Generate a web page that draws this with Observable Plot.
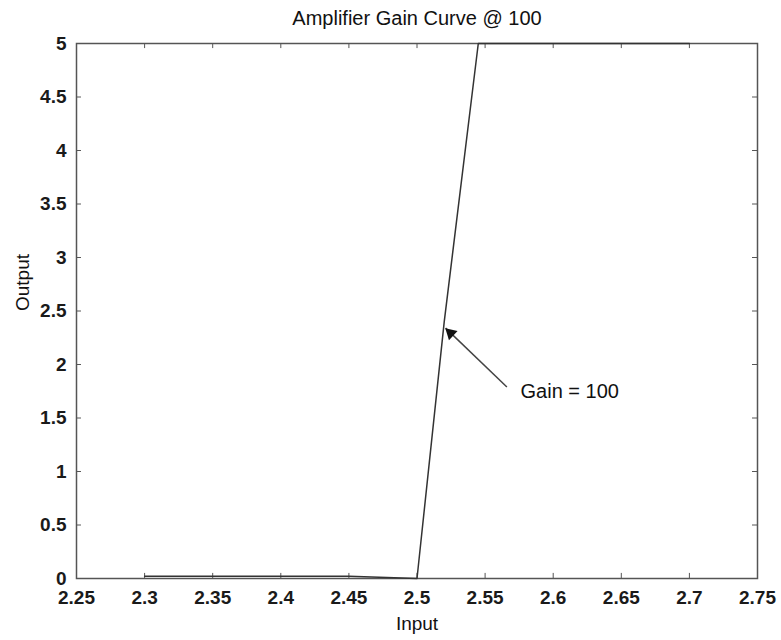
<!DOCTYPE html>
<html>
<head>
<meta charset="utf-8">
<script src="https://cdn.jsdelivr.net/npm/d3@7"></script>
<script src="https://cdn.jsdelivr.net/npm/@observablehq/plot@0.6"></script>
<style>
  html, body { margin: 0; padding: 0; background: #fff; }
  svg { font-family: "Liberation Sans", Arial, sans-serif; }
</style>
</head>
<body>
<div id="chart"></div>
<script>
// Data
const inputX = [2.3, 2.45, 2.5, 2.52, 2.545, 2.7];
const outputY = [0.02, 0.02, 0, 2.4, 5, 5];
const xTicks = [2.25, 2.3, 2.35, 2.4, 2.45, 2.5, 2.55, 2.6, 2.65, 2.7, 2.75];
const yTicks = [0, 0.5, 1, 1.5, 2, 2.5, 3, 3.5, 4, 4.5, 5];
const annotation = ["Gain = 100"];
const arrowFrom = [2.566, 1.79];
const arrowTo = [2.521, 2.34];
const titleText = "Amplifier Gain Curve @ 100";

const curve = inputX.map((x, i) => ({x, y: outputY[i]}));
const xMin = 2.25, xMax = 2.75, yMin = 0, yMax = 5;
const tx = (xMax - xMin) * 0.0073; // inward tick length in data units
const ty = (yMax - yMin) * 0.0095;

const chart = Plot.plot({
  width: 781,
  height: 640,
  marginLeft: 76,
  marginRight: 24,
  marginTop: 43,
  marginBottom: 62,
  style: {fontSize: "19px", fontFamily: "'Liberation Sans', Arial, sans-serif", color: "#111", background: "#fff"},
  x: {domain: [xMin, xMax], ticks: xTicks, label: null},
  y: {domain: [yMin, yMax], ticks: yTicks, label: null},
  marks: [
    Plot.frame({stroke: "#555", strokeWidth: 1.5}),
    // inward ticks on all four sides
    Plot.ruleX(xTicks, {x: d => d, y1: yMin, y2: yMin + ty, stroke: "#555"}),
    Plot.ruleX(xTicks, {x: d => d, y1: yMax, y2: yMax - ty, stroke: "#555"}),
    Plot.ruleY(yTicks, {y: d => d, x1: xMin, x2: xMin + tx, stroke: "#555"}),
    Plot.ruleY(yTicks, {y: d => d, x1: xMax, x2: xMax - tx, stroke: "#555"}),
    Plot.axisX({ticks: xTicks, tickSize: 0, tickPadding: 12, fontSize: 19, fontWeight: "bold", fill: "#1a1a1a", tickFormat: d => String(+d.toFixed(2)), label: null}),
    Plot.axisY({ticks: yTicks, tickSize: 0, tickPadding: 10, fontSize: 19, fontWeight: "bold", fill: "#1a1a1a", tickFormat: d => String(d), label: null}),
    Plot.line(curve, {x: "x", y: "y", stroke: "#333", strokeWidth: 1.5}),
    Plot.link([{x1: arrowFrom[0], y1: arrowFrom[1], x2: arrowTo[0], y2: arrowTo[1]}], {
      x1: "x1", y1: "y1", x2: "x2", y2: "y2", stroke: "#444", strokeWidth: 1.5
    }),
    Plot.dot([{x: arrowTo[0], y: arrowTo[1]}], {x: "x", y: "y", symbol: "triangle2", r: 6, rotate: -47, dx: 5, dy: 5, fill: "#111", stroke: "none"}),
    Plot.text(annotation, {x: 2.576, y: 1.75, text: d => d, textAnchor: "start", fontSize: 20, fill: "#111"}),
    Plot.text([titleText], {frameAnchor: "top", dy: -33, text: d => d, fontSize: 20, fill: "#111"}),
    Plot.text(["Input"], {frameAnchor: "bottom", dy: 51, text: d => d, fontSize: 19, fill: "#111"}),
    Plot.text(["Output"], {frameAnchor: "left", dx: -54, rotate: -90, text: d => d, fontSize: 19, fill: "#111"})
  ]
});
document.getElementById("chart").appendChild(chart);
</script>
</body>
</html>
